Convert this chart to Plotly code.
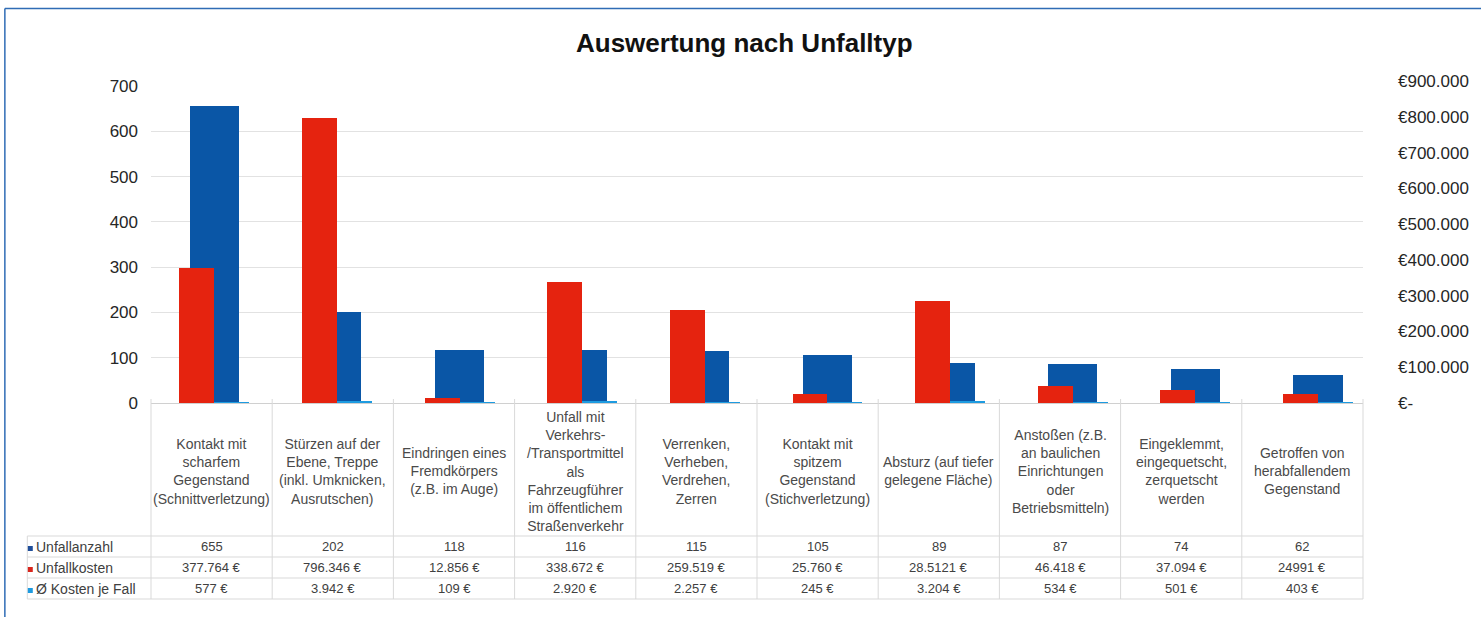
import plotly.graph_objects as go

# ---------------- data ----------------
categories = [
    "Kontakt mit<br>scharfem<br>Gegenstand<br>(Schnittverletzung)",
    "Stürzen auf der<br>Ebene, Treppe<br>(inkl. Umknicken,<br>Ausrutschen)",
    "Eindringen eines<br>Fremdkörpers<br>(z.B. im Auge)",
    "Unfall mit<br>Verkehrs-<br>/Transportmittel<br>als<br>Fahrzeugführer<br>im öffentlichem<br>Straßenverkehr",
    "Verrenken,<br>Verheben,<br>Verdrehen,<br>Zerren",
    "Kontakt mit<br>spitzem<br>Gegenstand<br>(Stichverletzung)",
    "Absturz (auf tiefer<br>gelegene Fläche)",
    "Anstoßen (z.B.<br>an baulichen<br>Einrichtungen<br>oder<br>Betriebsmitteln)",
    "Eingeklemmt,<br>eingequetscht,<br>zerquetscht<br>werden",
    "Getroffen von<br>herabfallendem<br>Gegenstand",
]
unfallanzahl = [655, 202, 118, 116, 115, 105, 89, 87, 74, 62]
unfallkosten = [377764, 796346, 12856, 338672, 259519, 25760, 285121, 46418, 37094, 24991]
kosten_je_fall = [577, 3942, 109, 2920, 2257, 245, 3204, 534, 501, 403]

anzahl_labels = ["655", "202", "118", "116", "115", "105", "89", "87", "74", "62"]
kosten_labels = ["377.764 €", "796.346 €", "12.856 €", "338.672 €", "259.519 €",
                 "25.760 €", "28.5121 €", "46.418 €", "37.094 €", "24991 €"]
je_fall_labels = ["577 €", "3.942 €", "109 €", "2.920 €", "2.257 €",
                  "245 €", "3.204 €", "534 €", "501 €", "403 €"]

series_names = ["Unfallanzahl", "Unfallkosten", "Ø Kosten je Fall"]
left_ticks = [0, 100, 200, 300, 400, 500, 600, 700]
right_tickvals = [0, 100000, 200000, 300000, 400000, 500000, 600000, 700000, 800000, 900000]
right_ticktext = ["€-", "€100.000", "€200.000", "€300.000", "€400.000", "€500.000",
                  "€600.000", "€700.000", "€800.000", "€900.000"]
title_text = "Auswertung nach Unfalltyp"

# ---------------- style ----------------
W, H = 1481, 617
PL, PR, PT, PB = 151, 1366, 81, 403
BLUE = "#0A56A6"
RED = "#E5230F"
LIGHTBLUE = "#1E9BE0"
GRID = "#E2E2E2"
TABLE = "#D9D9D9"
FONT = "Liberation Sans, Arial, sans-serif"

def px(X):
    return (X - PL) / (PR - PL)

def py(Y):
    return (PB - Y) / (PB - PT)

xkeys = [c.replace("<br>", " ") for c in categories]
xrange_ = [-0.5165, 9.367]

fig = go.Figure()
fig.add_trace(go.Bar(x=xkeys, y=unfallanzahl, name=series_names[0], marker_color=BLUE,
                     marker_line_width=0, width=0.4, offset=-0.2, xaxis="x", yaxis="y"))
fig.add_trace(go.Bar(x=xkeys, y=unfallkosten, name=series_names[1], marker_color=RED,
                     marker_line_width=0, width=0.285, offset=-0.285, xaxis="x2", yaxis="y2"))
fig.add_trace(go.Bar(x=xkeys, y=kosten_je_fall, name=series_names[2], marker_color=LIGHTBLUE,
                     marker_line_width=0, width=0.285, offset=0.0, xaxis="x2", yaxis="y2"))

shapes = []
annotations = []

# outer frame
shapes.append(dict(type="line", xref="paper", yref="paper", x0=px(4.5), x1=px(4.5),
                   y0=py(8.5), y1=py(H + 5), line=dict(color="#2F6CB5", width=1.5)))
shapes.append(dict(type="line", xref="paper", yref="paper", x0=px(4.5), x1=px(W + 5),
                   y0=py(8.5), y1=py(8.5), line=dict(color="#2F6CB5", width=1.5)))

# data table grid
col_x = [151 + 121.5 * i for i in range(11)]
row_y = [536, 557, 578, 599]
for X in col_x:
    shapes.append(dict(type="line", xref="paper", yref="paper", x0=px(X), x1=px(X),
                       y0=py(399), y1=py(599), line=dict(color=TABLE, width=1)))
shapes.append(dict(type="line", xref="paper", yref="paper", x0=px(27), x1=px(27),
                   y0=py(536), y1=py(599), line=dict(color=TABLE, width=1)))
for Y in row_y:
    shapes.append(dict(type="line", xref="paper", yref="paper", x0=px(27), x1=px(1366),
                       y0=py(Y), y1=py(Y), line=dict(color=TABLE, width=1)))

# category labels
for i, c in enumerate(categories):
    cx = (col_x[i] + col_x[i + 1]) / 2
    annotations.append(dict(xref="paper", yref="paper", x=px(cx), y=py(471), text=c,
                            showarrow=False, xanchor="center", yanchor="middle",
                            align="center", font=dict(family=FONT, size=14, color="#4A4A4A")))

# value rows
rows = [anzahl_labels, kosten_labels, je_fall_labels]
row_centers = [546.5, 567.5, 588.5]
colors = ["#1F4E9A", "#D9261C", LIGHTBLUE]
for r, labels in enumerate(rows):
    for i, t in enumerate(labels):
        cx = (col_x[i] + col_x[i + 1]) / 2
        annotations.append(dict(xref="paper", yref="paper", x=px(cx), y=py(row_centers[r]),
                                text=t, showarrow=False, xanchor="center", yanchor="middle",
                                font=dict(family=FONT, size=13, color="#404040")))
    annotations.append(dict(xref="paper", yref="paper", x=px(34), y=py(row_centers[r]),
                            text=series_names[r], showarrow=False, xanchor="left",
                            yanchor="middle", font=dict(family=FONT, size=14, color="#404040")))
    shapes.append(dict(type="rect", xref="paper", yref="paper", x0=px(27.5), x1=px(32.5),
                       y0=py(row_centers[r] + 4.5), y1=py(row_centers[r] - 0.5),
                       line=dict(width=0), fillcolor=colors[r]))

# title
annotations.append(dict(xref="paper", yref="paper", x=px(746), y=py(43), text=title_text,
                        showarrow=False, xanchor="center", yanchor="middle",
                        font=dict(family=FONT, size=26, color="#111111", weight="bold")))

fig.update_layout(
    width=W, height=H,
    margin=dict(l=PL, r=W - PR, t=PT, b=H - PB, pad=0),
    paper_bgcolor="white", plot_bgcolor="rgba(0,0,0,0)",
    showlegend=False, bargap=0,
    font=dict(family=FONT, color="#333333"),
    xaxis=dict(domain=[0, 1], type="category", range=xrange_, showticklabels=False,
               showgrid=False, zeroline=False, showline=True, linecolor="#D0D0D0",
               linewidth=1, ticks="", anchor="y", fixedrange=True),
    yaxis=dict(domain=[0, py(86)], range=[0, 700], tickvals=left_ticks, showgrid=True,
               gridcolor=GRID, gridwidth=1, zeroline=False, showline=False, ticks="",
               tickfont=dict(family=FONT, size=17, color="#262626"),
               ticklabelstandoff=12, anchor="x", fixedrange=True),
    xaxis2=dict(overlaying="x", type="category", range=xrange_, visible=False,
                anchor="y2", fixedrange=True),
    yaxis2=dict(domain=[0, 1], range=[0, 900000], tickvals=right_tickvals,
                ticktext=right_ticktext, side="right", anchor="x2", showgrid=False,
                zeroline=False, showline=False, ticks="",
                tickfont=dict(family=FONT, size=17, color="#262626"),
                ticklabelstandoff=34, fixedrange=True),
    shapes=shapes,
    annotations=annotations,
)

fig.write_html("out.html", config={"displayModeBar": False},
               post_script="document.body.style.margin='0';document.body.style.overflow='hidden';")
